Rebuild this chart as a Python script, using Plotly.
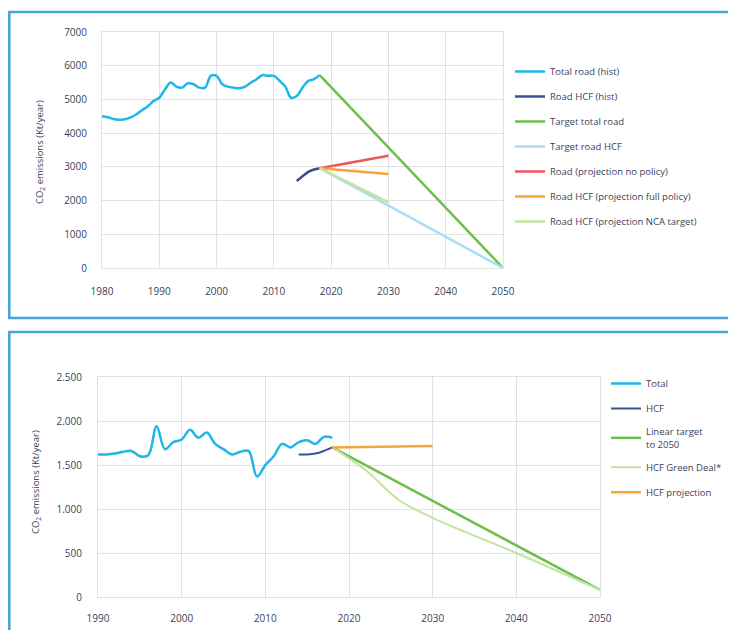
import plotly.graph_objects as go

OFF = 8  # page body margin
W, H = 736 - OFF, 630 - OFF
FONT = "Open Sans"
TXT = "#3a3f58"
GRID = "#e2e2e2"

def fx(px):
    return (px - OFF) / W

def fy(py):
    return 1 - (py - OFF) / H

# ---------------- Top chart data ----------------
top_hist_years = list(range(1980, 2019))
top_total_hist = [4500, 4470, 4420, 4400, 4410, 4470, 4560, 4680, 4800, 4950,
                  5050, 5300, 5500, 5380, 5350, 5480, 5450, 5350, 5350, 5700,
                  5700, 5450, 5380, 5350, 5330, 5380, 5500, 5600, 5720, 5700,
                  5700, 5550, 5380, 5050, 5100, 5350, 5550, 5600, 5720]
top_hcf_years = [2014, 2015, 2016, 2017, 2018]
top_hcf_hist = [2580, 2720, 2850, 2920, 2960]
top_target_years = [2018, 2050]
top_target_total = [5720, 0]
top_target_hcf = [2960, 0]
top_proj_years = [2018, 2030]
top_proj_nopolicy = [2960, 3330]
top_proj_fullpolicy = [2960, 2790]
top_proj_nca = [2960, 1950]
top_names = ["Total road (hist)", "Road HCF (hist)", "Target total road",
             "Target road HCF", "Road (projection no policy)",
             "Road HCF (projection full policy)", "Road HCF (projection NCA target)"]
top_xticks = [1980, 1990, 2000, 2010, 2020, 2030, 2040, 2050]
top_yticks = [0, 1000, 2000, 3000, 4000, 5000, 6000, 7000]

# ---------------- Bottom chart data ----------------
bot_hist_years = list(range(1990, 2019))
bot_total = [1620, 1620, 1630, 1650, 1660, 1600, 1610, 1940, 1680, 1760,
             1790, 1900, 1810, 1870, 1740, 1680, 1620, 1650, 1660, 1370,
             1500, 1600, 1740, 1700, 1760, 1780, 1740, 1820, 1810]
bot_hcf_years = [2014, 2015, 2016, 2017, 2018]
bot_hcf = [1620, 1620, 1630, 1660, 1700]
bot_linear_years = [2018, 2050]
bot_linear = [1700, 80]
bot_gd_years = [2018, 2022, 2026, 2030, 2040, 2050]
bot_greendeal = [1700, 1440, 1100, 900, 500, 80]
bot_proj_years = [2018, 2030]
bot_proj = [1700, 1715]
bot_names = ["Total", "HCF", "Linear target<br>to 2050", "HCF Green Deal*", "HCF projection"]
bot_xticks = [1990, 2000, 2010, 2020, 2030, 2040, 2050]
bot_yticks = [0, 500, 1000, 1500, 2000, 2500]
bot_yticklabels = ["0", "500", "1.000", "1.500", "2.000", "2.500"]

C_TOTAL = "#1fb6e8"
C_HCF = "#3c4f93"
C_GREEN = "#6cc04a"
C_LBLUE = "#a9def5"
C_RED = "#f2545b"
C_ORANGE = "#f7a53a"
C_LGREEN = "#c3e3a0"

fig = go.Figure()

def add(x, y, name, color, width, xa, ya, legend, shape="linear"):
    fig.add_trace(go.Scatter(x=x, y=y, name=name, mode="lines",
                             line=dict(color=color, width=width, shape=shape),
                             xaxis=xa, yaxis=ya, legend=legend, legendgroup=name))

# top
add(top_hist_years, top_total_hist, top_names[0], C_TOTAL, 2.5, "x", "y", "legend", "spline")
add(top_hcf_years, top_hcf_hist, top_names[1], C_HCF, 2.5, "x", "y", "legend", "spline")
add(top_target_years, top_target_total, top_names[2], C_GREEN, 2.5, "x", "y", "legend")
add(top_target_years, top_target_hcf, top_names[3], C_LBLUE, 2.5, "x", "y", "legend")
add(top_proj_years, top_proj_nopolicy, top_names[4], C_RED, 2.5, "x", "y", "legend")
add(top_proj_years, top_proj_fullpolicy, top_names[5], C_ORANGE, 2.5, "x", "y", "legend")
add(top_proj_years, top_proj_nca, top_names[6], C_LGREEN, 2.5, "x", "y", "legend")

# bottom
add(bot_hist_years, bot_total, bot_names[0], C_TOTAL, 2.5, "x2", "y2", "legend2", "spline")
add(bot_hcf_years, bot_hcf, bot_names[1], C_HCF, 2, "x2", "y2", "legend2", "spline")
add(bot_linear_years, bot_linear, bot_names[2], C_GREEN, 2.5, "x2", "y2", "legend2")
add(bot_gd_years, bot_greendeal, bot_names[3], C_LGREEN, 2, "x2", "y2", "legend2", "spline")
add(bot_proj_years, bot_proj, bot_names[4], C_ORANGE, 2.5, "x2", "y2", "legend2")

axis_common = dict(showgrid=True, gridcolor=GRID, gridwidth=1, zeroline=False,
                   showline=True, linecolor=GRID, mirror=True, ticks="",
                   automargin=False,
                   tickfont=dict(family=FONT, size=10, color=TXT), fixedrange=True)

fig.update_layout(
    template="none",
    width=W, height=H, margin=dict(l=0, r=0, t=0, b=0, pad=0),
    paper_bgcolor="white", plot_bgcolor="white", showlegend=True,
    font=dict(family=FONT, size=9, color=TXT),
    xaxis=dict(domain=[fx(102), fx(503)], range=[1980, 2050], tickvals=top_xticks,
               anchor="y", ticklabelstandoff=14, **axis_common),
    yaxis=dict(domain=[fy(268), fy(32)], range=[0, 7000], tickvals=top_yticks,
               anchor="x", ticklabelstandoff=12, **axis_common),
    xaxis2=dict(domain=[fx(98), fx(600)], range=[1990, 2050], tickvals=bot_xticks,
                anchor="y2", ticklabelstandoff=12, **axis_common),
    yaxis2=dict(domain=[fy(597), fy(377)], range=[0, 2500], tickvals=bot_yticks,
                ticktext=bot_yticklabels, anchor="x2", ticklabelstandoff=13, **axis_common),
    legend=dict(x=fx(510), y=fy(57), xanchor="left", yanchor="top",
                font=dict(family=FONT, size=9.5, color=TXT), tracegroupgap=6,
                itemwidth=30, bgcolor="rgba(0,0,0,0)", borderwidth=0),
    legend2=dict(x=fx(606), y=fy(369), xanchor="left", yanchor="top",
                 font=dict(family=FONT, size=9.5, color=TXT), tracegroupgap=6,
                 itemwidth=30, bgcolor="rgba(0,0,0,0)", borderwidth=0),
)

# panel borders
BORDER = "#46a2d7"
fig.add_shape(type="rect", xref="paper", yref="paper",
              x0=fx(9.3), x1=fx(760), y0=fy(318), y1=fy(12),
              line=dict(color=BORDER, width=2.5), layer="above")
fig.add_shape(type="rect", xref="paper", yref="paper",
              x0=fx(9.3), x1=fx(760), y0=fy(680), y1=fy(332),
              line=dict(color=BORDER, width=2.5), layer="above")

# y-axis titles
fig.add_annotation(text="CO<sub>2</sub> emissions (Kt/year)", xref="paper", yref="paper",
                   x=fx(40), y=fy(152), xanchor="center", yanchor="middle",
                   textangle=-90, showarrow=False,
                   font=dict(family=FONT, size=9.5, color=TXT))
fig.add_annotation(text="CO<sub>2</sub> emissions (Kt/year)", xref="paper", yref="paper",
                   x=fx(36), y=fy(482), xanchor="center", yanchor="middle",
                   textangle=-90, showarrow=False,
                   font=dict(family=FONT, size=9.5, color=TXT))

fig.write_html("out.html")
